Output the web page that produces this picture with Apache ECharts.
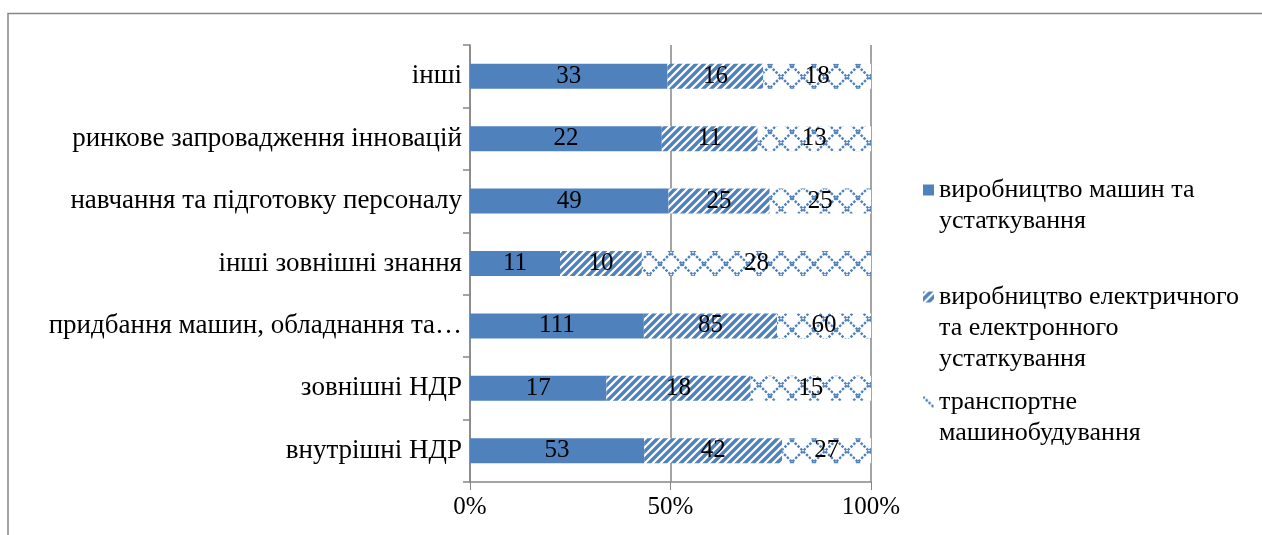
<!DOCTYPE html>
<html>
<head>
<meta charset="utf-8">
<script src="https://cdn.jsdelivr.net/npm/echarts@6/dist/echarts.min.js"></script>
<style>
  html, body { margin: 0; padding: 0; background: #fff; }
  #chart { width: 1262px; height: 535px; }
</style>
</head>
<body>
<div id="chart"></div>
<script>
// Innovation expenditure types (top to bottom)
const categories = [
  'інші',
  'ринкове запровадження інновацій',
  'навчання та підготовку персоналу',
  'інші зовнішні знання',
  'придбання машин, обладнання та програмного забезпечення',
  'зовнішні НДР',
  'внутрішні НДР'
];

// Series names (line breaks as wrapped in the legend)
const seriesNames = [
  'виробництво машин та\nустаткування',
  'виробництво електричного\nта електронного\nустаткування',
  'транспортне\nмашинобудування'
];

// Counts per category, same order as categories
const machinery = [33, 22, 49, 11, 111, 17, 53];
const electrical = [16, 11, 25, 10, 85, 18, 42];
const transport = [18, 13, 25, 28, 60, 15, 27];

const xTicks = [0, 50, 100];

const BLUE = '#4F81BD';
const GREY = '#868686';
const FONT = '"Liberation Serif", "Times New Roman", serif';

// Long category names are cut at a word boundary
const MAX_LABEL_CHARS = 32;
function shortLabel(v) {
  if (v.length <= MAX_LABEL_CHARS) return v;
  return v.slice(0, v.lastIndexOf(' ', MAX_LABEL_CHARS)) + '…';
}

// Hatch fills
function stripeTile() {
  const c = document.createElement('canvas');
  c.width = 8; c.height = 8;
  const g = c.getContext('2d');
  g.fillStyle = '#fff'; g.fillRect(0, 0, 8, 8);
  g.strokeStyle = BLUE; g.lineWidth = 3.4; g.lineCap = 'square';
  [[-4, 4, 4, -4], [0, 8, 8, 0], [4, 12, 12, 4]].forEach(function (l) {
    g.beginPath(); g.moveTo(l[0], l[1]); g.lineTo(l[2], l[3]); g.stroke();
  });
  return c;
}
function diamondTile() {
  const s = 22;
  const c = document.createElement('canvas');
  c.width = s; c.height = s;
  const g = c.getContext('2d');
  g.fillStyle = '#fff'; g.fillRect(0, 0, s, s);
  g.strokeStyle = BLUE; g.lineWidth = 2.4;
  g.setLineDash([2.5, 1.5]);
  g.beginPath(); g.moveTo(0, 0); g.lineTo(s, s); g.stroke();
  g.beginPath(); g.moveTo(s, 0); g.lineTo(0, s); g.stroke();
  return c;
}

const fills = [
  BLUE,
  { image: stripeTile(), repeat: 'repeat' },
  { image: diamondTile(), repeat: 'repeat' }
];

const raw = [machinery, electrical, transport];
const totals = categories.map(function (_, i) {
  return machinery[i] + electrical[i] + transport[i];
});

const series = raw.map(function (vals, s) {
  return {
    name: seriesNames[s],
    type: 'bar',
    stack: 'share',
    barCategoryGap: '60%',
    itemStyle: { color: fills[s] },
    label: {
      show: true,
      position: 'inside',
      color: '#000',
      fontFamily: FONT,
      fontSize: 25,
      formatter: function (p) { return vals[p.dataIndex]; }
    },
    emphasis: { disabled: true },
    data: vals.map(function (v, i) { return v / totals[i] * 100; })
  };
});

// Legend entries: icon aligned with the first text line
const LH = 31;
function legendAt(name, top) {
  const lines = name.split('\n').length;
  return {
    data: [name],
    orient: 'vertical',
    left: 923,
    top: top,
    padding: 0,
    itemWidth: 11,
    itemHeight: 11,
    icon: 'rect',
    selectedMode: false,
    formatter: function (n) { return '\n'.repeat(lines - 1) + n; },
    textStyle: { fontFamily: FONT, fontSize: 26, color: '#000', lineHeight: LH }
  };
}
const legendTops = [190, 297, 402];

const chart = echarts.init(document.getElementById('chart'));
chart.setOption({
  animation: false,
  backgroundColor: '#fff',
  grid: { left: 470, right: 391, top: 45, bottom: 53, containLabel: false },
  xAxis: {
    type: 'value',
    min: xTicks[0],
    max: xTicks[xTicks.length - 1],
    interval: xTicks[1] - xTicks[0],
    axisLine: { show: true, lineStyle: { color: GREY, width: 1.5 } },
    axisTick: { show: true, length: 8, lineStyle: { color: GREY, width: 1 } },
    splitLine: { show: true, lineStyle: { color: GREY, width: 1.5 } },
    axisLabel: {
      formatter: '{value}%',
      margin: 13,
      color: '#000',
      fontFamily: FONT,
      fontSize: 25
    }
  },
  yAxis: {
    type: 'category',
    inverse: true,
    data: categories,
    axisLine: { show: true, lineStyle: { color: GREY, width: 1.5 } },
    axisTick: { show: true, length: 7, lineStyle: { color: GREY, width: 1.5 } },
    axisLabel: {
      margin: 8,
      color: '#000',
      fontFamily: FONT,
      fontSize: 27,
      formatter: shortLabel
    }
  },
  legend: seriesNames.map(function (n, i) {
    return legendAt(n, legendTops[i] - (n.split('\n').length - 1) * LH - LH / 2);
  }),
  graphic: [{
    type: 'polyline',
    shape: { points: [[8, 535], [8, 13.5], [1262, 13.5]] },
    style: { stroke: GREY, lineWidth: 1.5, fill: null },
    silent: true
  }],
  series: series
});
</script>
</body>
</html>
